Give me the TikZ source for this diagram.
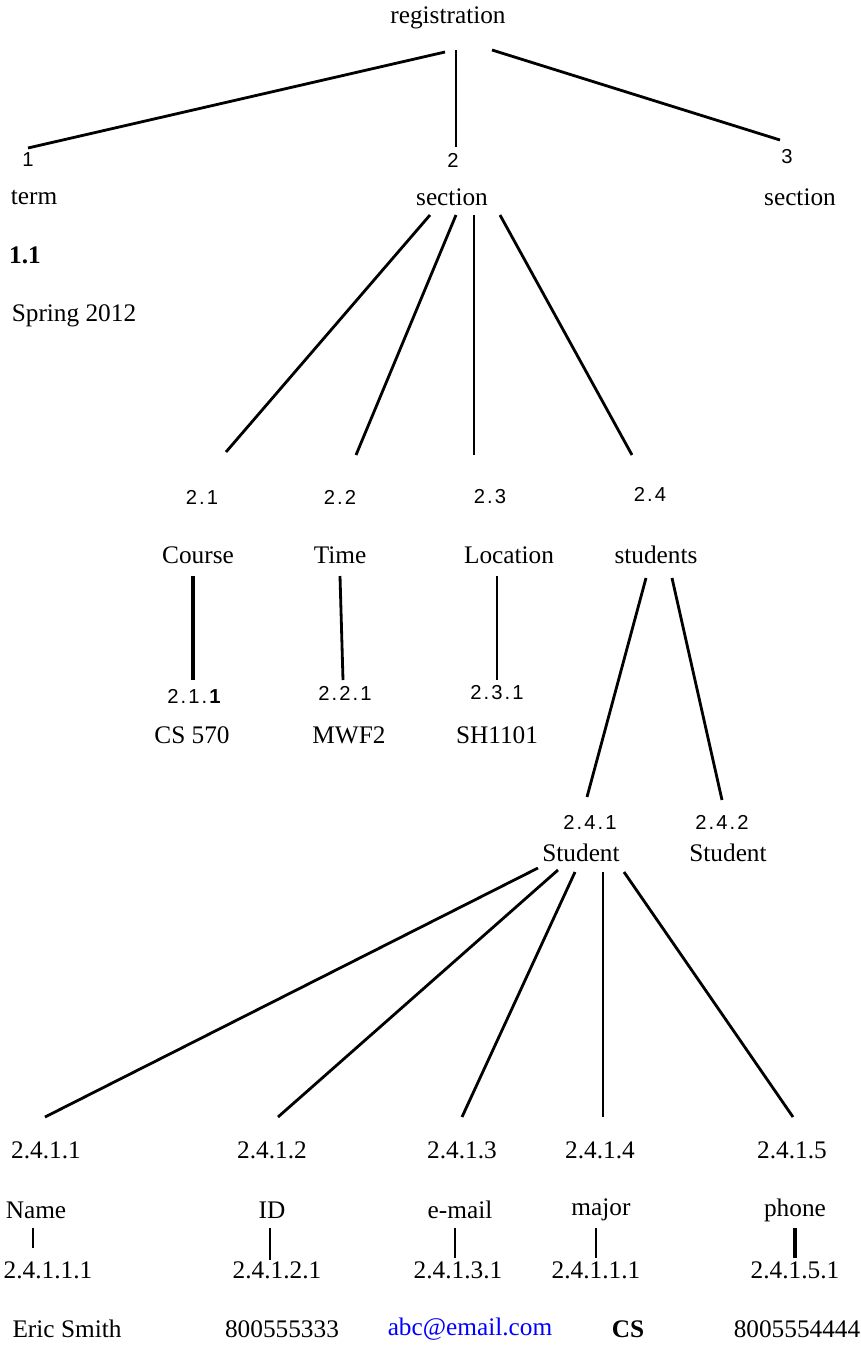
\documentclass[tikz,border=0pt]{standalone}
\usepackage{fontspec}
\setmainfont{Liberation Serif}
\newfontfamily\numfont{Liberation Sans}[LetterSpace=10]
\usepackage{tikz}
\usetikzlibrary{calc}

\begin{document}
\begin{tikzpicture}[x=0.02cm,y=-0.02cm,
    every node/.style={inner sep=0pt,font=\fontsize{14.4}{17}\selectfont},
    num/.style={font=\numfont\fontsize{11.5}{13}\selectfont},
    edge/.style={line width=1.6pt},
    thinedge/.style={line width=0.6pt},
    boldedge/.style={line width=2.3pt}]
        \useasboundingbox (0,0) rectangle (861,1346);

        % top level
        \node (reg) at (448,18) {registration};
        \node[num] (n1) at (28,160) {1};
        \node[num] (n2) at (453,160) {2};
        \node[num] (n3) at (787,157) {3};
        \node (term) at (34,197) {term};
        \node (sec) at (452,197) {section};
        \node (secb) at (800,197) {section};
        \node (n11) at (25,255) {\textbf{1.1}};
        \node (spring) at (74,316) {Spring 2012};

        \draw[edge] ($(reg)+(-3,34)$) -- ($(n1)+(0,-12)$);
        \draw[thinedge] ($(reg)+(8,32)$) -- ($(n2)+(3,-13)$);
        \draw[edge] ($(reg)+(44,32)$) -- ($(n3)+(-7,-17)$);

        % section children
        \node[num] (n21) at (202,497) {2.1};
        \node[num] (n22) at (340,497) {2.2};
        \node[num] (n23) at (490,497) {2.3};
        \node[num] (n24) at (650,494) {2.4};
        \node (course) at (198,555) {Course};
        \node (time) at (340,555) {Time};
        \node (loc) at (509,555) {Location};
        \node (stud) at (656,555) {students};

        \draw[edge] ($(sec)+(-22,18)$) -- ($(n21)+(24,-45)$);
        \draw[edge] ($(sec)+(4,18)$) -- ($(n22)+(16,-42)$);
        \draw[thinedge] ($(sec)+(22,18)$) -- ($(n23)+(-16,-42)$);
        \draw[edge] ($(sec)+(48,18)$) -- ($(n24)+(-18,-39)$);

        \node[num] (n211) at (195,696) {2.1.\textbf{1}};
        \node[num] (n221) at (345,693) {2.2.1};
        \node[num] (n231) at (497,693) {2.3.1};
        \node (cs570) at (192,735) {CS 570};
        \node (mwf) at (349,735) {MWF2};
        \node (room) at (497,735) {SH1101};

        \draw[boldedge] ($(course)+(-5,21)$) -- ($(n211)+(-2,-16)$);
        \draw[edge] ($(time)+(0,21)$) -- ($(n221)+(-2,-13)$);
        \draw[edge] ($(loc)+(-12,21)$) -- ($(n231)+(0,-13)$);

        % students
        \node[num] (n241) at (590,822) {2.4.1};
        \node[num] (n242) at (722,822) {2.4.2};
        \node (st1) at (581,853) {Student};
        \node (st2) at (728,853) {Student};

        \draw[edge] ($(stud)+(-10,23)$) -- ($(n241)+(-3,-25)$);
        \draw[edge] ($(stud)+(16,23)$) -- ($(n242)+(0,-22)$);

        % student fields
        \node (f1) at (46,1150) {2.4.1.1};
        \node (f2) at (272,1150) {2.4.1.2};
        \node (f3) at (462,1150) {2.4.1.3};
        \node (f4) at (600,1150) {2.4.1.4};
        \node (f5) at (792,1150) {2.4.1.5};
        \node (name) at (36,1210) {Name};
        \node (id) at (272,1210) {ID};
        \node (mail) at (460,1210) {e-mail};
        \node (major) at (601,1210) {major};
        \node (phone) at (795,1210) {phone};
        \node (v1) at (48,1270) {2.4.1.1.1};
        \node (v2) at (277,1270) {2.4.1.2.1};
        \node (v3) at (458,1270) {2.4.1.3.1};
        \node (v4) at (596,1270) {2.4.1.1.1};
        \node (v5) at (795,1270) {2.4.1.5.1};
        \node (eric) at (67,1329) {Eric Smith};
        \node (idval) at (282,1329) {800555333};
        \node[text=blue] (mailval) at (470,1329) {abc@email.com};
        \node (csval) at (628,1329) {\textbf{CS}};
        \node (phoneval) at (797,1329) {8005554444};

        \draw[edge] ($(st1)+(-43,15)$) -- ($(f1)+(-1,-33)$);
        \draw[edge] ($(st1)+(-23,17)$) -- ($(f2)+(6,-33)$);
        \draw[edge] ($(st1)+(-6,19)$) -- ($(f3)+(0,-33)$);
        \draw[edge] ($(st1)+(22,19)$) -- ($(f4)+(3,-33)$);
        \draw[edge] ($(st1)+(43,19)$) -- ($(f5)+(1,-33)$);

        \draw[edge] ($(name)+(-3,18)$) -- ($(v1)+(-15,-22)$);
        \draw[thinedge] ($(id)+(-2,18)$) -- ($(v2)+(-7,-10)$);
        \draw[thinedge] ($(mail)+(-5,18)$) -- ($(v3)+(-3,-12)$);
        \draw[edge] ($(major)+(-5,18)$) -- ($(v4)+(0,-12)$);
        \draw[boldedge] ($(phone)+(0,18)$) -- ($(v5)+(0,-12)$);
    \end{tikzpicture}
\end{document}
